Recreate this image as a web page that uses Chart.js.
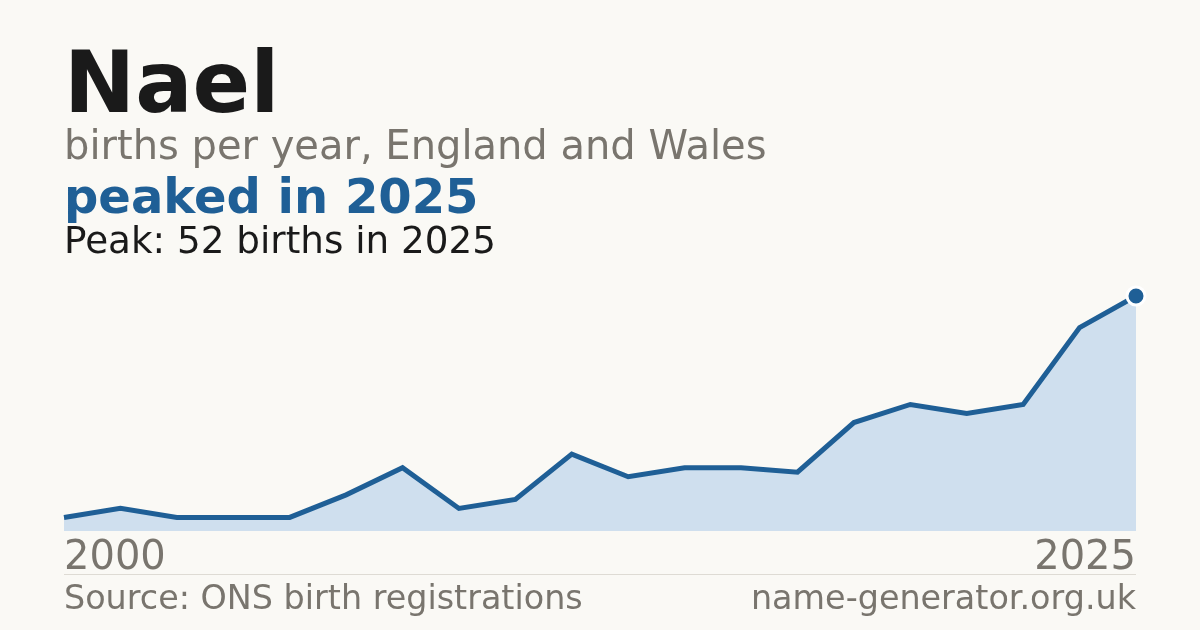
<!DOCTYPE html>
<html>
<head>
<meta charset="utf-8">
<script src="https://cdn.jsdelivr.net/npm/chart.js@4"></script>
<style>
  html, body { margin: 0; padding: 0; background: #faf9f5; }
  #wrap { position: relative; width: 1200px; height: 630px; overflow: hidden; font-family: "DejaVu Sans", sans-serif; }
  .txt { position: absolute; left: 64px; line-height: 1; white-space: nowrap; }
  #title { top: 40px; font-size: 85px; font-weight: bold; color: #1a1a1a; }
  #sub { top: 125px; font-size: 40px; color: #79756e; }
  #peaked { top: 172px; font-size: 48px; font-weight: bold; color: #1f5f96; }
  #peak { top: 222px; font-size: 37.3px; color: #1a1a1a; }
  #rule { position: absolute; left: 64px; width: 1072px; top: 574px; height: 1px; background: #dedbd4; }
  .foot { top: 581px; font-size: 33.4px; color: #79756e; }
  #right { left: auto; right: 64px; }
  #chartBox { position: absolute; left: 0; top: 0; width: 1200px; height: 630px; }
</style>
</head>
<body>
<div id="wrap">
  <div id="chartBox"><canvas id="Births"></canvas></div>
  <div class="txt" id="title">Nael</div>
  <div class="txt" id="sub">births per year, England and Wales</div>
  <div class="txt" id="peaked">peaked in 2025</div>
  <div class="txt" id="peak">Peak: 52 births in 2025</div>
  <div id="rule"></div>
  <div class="txt foot">Source: ONS birth registrations</div>
  <div class="txt foot" id="right">name-generator.org.uk</div>
</div>
<script>
// years with a recorded count, and births in each
var YearArray = ['2000','2007','2008','2009','2010','2011','2012','2013','2014','2015',
                 '2016','2017','2018','2019','2020','2021','2022','2023','2024','2025'];
var BirthArray = [3, 5, 3, 3, 3, 8, 14, 5, 7, 17,
                  12, 14, 14, 13, 24, 28, 26, 28, 45, 52];

const ctx = document.getElementById('Births').getContext('2d');
const last = BirthArray.length - 1;

const BirthChart = new Chart(ctx, {
    type: 'line',
    data: {
        labels: YearArray,
        datasets: [
            {
                data: BirthArray,
                borderColor: '#1f5f96',
                borderWidth: 5,
                backgroundColor: '#cfdfee',
                fill: 'origin',
                tension: 0,
                clip: false,
                pointRadius: (c) => c.dataIndex === last ? 9 : 0,
                pointBackgroundColor: '#1f5f96',
                pointBorderColor: '#ffffff',
                pointBorderWidth: 3
            },
        ],
    },
    options: {
        responsive: false,
        devicePixelRatio: 1,
        animation: false,
        events: [],
        layout: {
            padding: {left: 64, right: 64, top: 296, bottom: 13}
        },
        plugins: {
            legend: {display: false},
            tooltip: {enabled: false}
        },
        scales: {
            x: {
                offset: false,
                grid: {display: false, drawTicks: false},
                border: {display: false},
                ticks: {
                    autoSkip: false,
                    maxRotation: 0,
                    align: 'inner',
                    padding: 4,
                    color: '#79756e',
                    font: {family: 'DejaVu Sans', size: 40},
                    callback: function(v, i) {
                        return (i === 0 || i === last) ? YearArray[i] : '';
                    }
                }
            },
            y: {
                display: false,
                min: 0,
                max: 52
            }
        }
    }
});
ctx.canvas.width = 1200;
ctx.canvas.height = 630;
BirthChart.resize(1200, 630);
</script>
</body>
</html>
